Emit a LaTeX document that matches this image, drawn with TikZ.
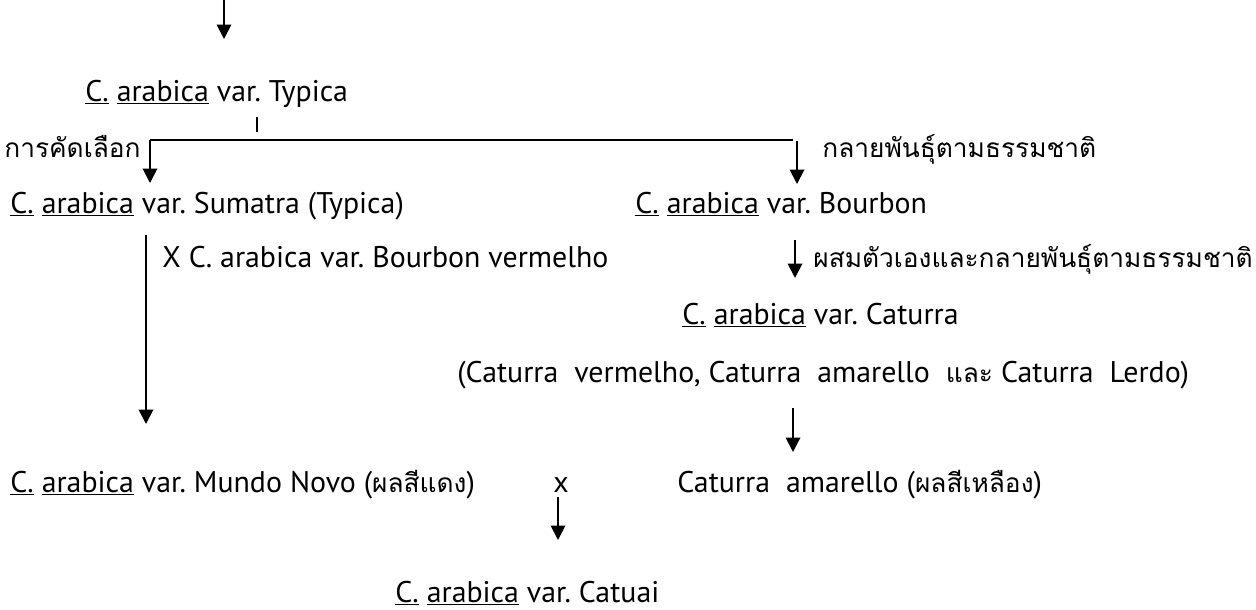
\documentclass[tikz,border=0pt]{standalone}
\usepackage{fontspec}
\setmainfont{PT Sans}
\newfontfamily\thaifont[Script=Thai, Scale=0.88]{Loma}
\usetikzlibrary{arrows.meta}
\newcommand{\thtxt}[1]{{\thaifont #1}}
\newcommand{\spname}[1]{\underline{#1}}
\frenchspacing
\begin{document}
\begin{tikzpicture}[x=0.02cm, y=-0.02cm,
  lbl/.style={anchor=base west, inner sep=0pt, font=\fontsize{17}{19}\selectfont},
  arr/.style={-{Triangle[length=0.29cm, width=0.29cm]}, line width=1.1pt},
  ln/.style={line width=1.1pt}]
\useasboundingbox (0,0) rectangle (1256,609);
% texts
\node[lbl] (typica) at (85,101) {\spname{C.} \spname{arabica} var. Typica};
\node[lbl] (select) at (4,157) {\thtxt{การคัดเลือก}};
\node[lbl] (mutate) at (822,157) {\thtxt{กลายพันธุ์ตามธรรมชาติ}};
\node[lbl] (sumatra) at (10,213) {\spname{C.} \spname{arabica} var. Sumatra (Typica)};
\node[lbl] (bourbon) at (635,213) {\spname{C.} \spname{arabica} var. Bourbon};
\node[lbl] (cross) at (162,267) {X C. arabica var. Bourbon vermelho};
\node[lbl] (selfmut) at (813,267) {\thtxt{ผสมตัวเองและกลายพันธุ์ตามธรรมชาติ}};
\node[lbl] (caturra) at (682,324) {\spname{C.} \spname{arabica} var. Caturra};
\node[lbl] (types) at (457,382) {(Caturra\ \ vermelho, Caturra\ \ amarello\ \ \thtxt{และ} Caturra\ \ Lerdo)};
\node[lbl] (mundo) at (10,492) {\spname{C.} \spname{arabica} var. Mundo Novo (\thtxt{ผลสีแดง})};
\node[lbl] (times) at (553,492) {x};
\node[lbl] (amarello) at (677,492) {Caturra\ \ amarello (\thtxt{ผลสีเหลือง})};
\node[lbl] (catuai) at (395,602) {\spname{C.} \spname{arabica} var. Catuai};
% arrow ends
\coordinate (top) at (224,0);
\coordinate (topEnd) at (224,39);
\coordinate (tickA) at (257,117);
\coordinate (tickB) at (257,132);
\coordinate (brL) at (150,140);
\coordinate (brLEnd) at (150,183);
\coordinate (brR) at (793,140);
\coordinate (brRA) at (797,141);
\coordinate (brREnd) at (797,184);
\coordinate (crossA) at (146,235);
\coordinate (crossB) at (146,424);
\coordinate (selfA) at (795,240);
\coordinate (selfB) at (795,278);
\coordinate (amaA) at (793,408);
\coordinate (amaB) at (793,452);
\coordinate (catA) at (558,497);
\coordinate (catB) at (558,540);
% connectors
\draw[arr] (top) -- (topEnd);
\draw[ln] (tickA) -- (tickB);
\draw[ln] (brR) -- (brL);
\draw[arr] (brL) -- (brLEnd);
\draw[arr] (brRA) -- (brREnd);
\draw[arr] (crossA) -- (crossB);
\draw[arr] (selfA) -- (selfB);
\draw[arr] (amaA) -- (amaB);
\draw[arr] (catA) -- (catB);
\end{tikzpicture}
\end{document}
